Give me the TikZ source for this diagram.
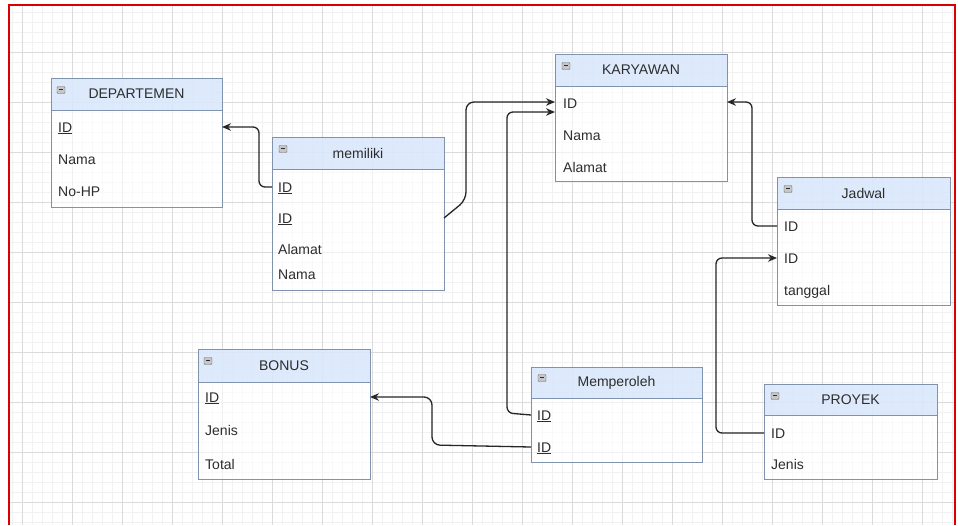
\documentclass[tikz,border=0pt]{standalone}
\usepackage{fontspec}
\setmainfont{Liberation Sans}
\usetikzlibrary{arrows.meta, calc}

\definecolor{hdrfill}{RGB}{218,232,252}
\definecolor{edgecol}{RGB}{128,146,172}
\definecolor{txtcol}{RGB}{45,45,45}

\begin{document}
\begin{tikzpicture}[
            x=1pt, y=-1pt,
            every node/.style={font=\fontsize{14}{16}\selectfont, text=txtcol},
            entity/.style={draw=edgecol, fill=hdrfill, fill opacity=0.9, text opacity=1, line width=1pt, outer sep=0pt, inner sep=0pt},
            fieldbox/.style={draw=edgecol, fill=white, fill opacity=0.6, line width=1pt, outer sep=0pt, inner sep=0pt},
            field/.style={anchor=west, inner sep=0pt, text height=10pt, text depth=0pt},
            toggle/.style={draw=gray!85!black, fill=gray!45, rounded corners=1pt, minimum width=8pt, minimum height=7pt, inner sep=0pt, font=\tiny},
            arrow/.style={-{Stealth[length=9pt, width=7.5pt]}, line width=1.3pt, black!85},
            minorline/.style={gray!11, line width=0.5pt},
            majorline/.style={gray!28, line width=0.7pt}
      ]
      \useasboundingbox (0,0) rectangle (958,525);
      \fill[white] (0,0) rectangle (958,525);

      % grid
      \foreach \x in {12,22,...,952} \draw[minorline] (\x,5) -- (\x,525);
      \foreach \y in {12,22,...,522} \draw[minorline] (9,\y) -- (955,\y);
      \foreach \x in {22,72,...,922} \draw[majorline] (\x,5) -- (\x,525);
      \foreach \y in {52,102,...,502} \draw[majorline] (9,\y) -- (955,\y);

      % frame
      \draw[red!85!black, line width=2pt] (9,525) -- (9,5) -- (955,5) -- (955,525);

      % DEPARTEMEN
      \node[entity, minimum width=171pt, minimum height=32pt] (dep) at (136.5,94) {DEPARTEMEN};
      \node[fieldbox, minimum width=171pt, minimum height=97pt] (depbody) at (136.5,158.5) {};
      \node[toggle] (deptog) at (61,90) {\rule[0.3ex]{3.5pt}{0.9pt}};
      \node[field] (depid) at (58,127) {\underline{ID}};
      \node[field] (depnama) at (58,159) {Nama};
      \node[field] (dephp) at (58,191) {No-HP};

      % memiliki
      \node[entity, minimum width=172pt, minimum height=32pt] (mem) at (358,153) {memiliki};
      \node[fieldbox, minimum width=172pt, minimum height=121pt] (membody) at (358,229.5) {};
      \node[toggle] (memtog) at (283,149) {\rule[0.3ex]{3.5pt}{0.9pt}};
      \node[field] (memid1) at (278,187) {\underline{ID}};
      \node[field] (memid2) at (278,218) {\underline{ID}};
      \node[field] (memalamat) at (278,249) {Alamat};
      \node[field] (memnama) at (278,274) {Nama};

      % KARYAWAN
      \node[entity, minimum width=172pt, minimum height=32pt] (kar) at (641,70) {KARYAWAN};
      \node[fieldbox, minimum width=172pt, minimum height=95pt] (karbody) at (641,133.5) {};
      \node[toggle] (kartog) at (566,66) {\rule[0.3ex]{3.5pt}{0.9pt}};
      \node[field] (karid) at (563,103) {ID};
      \node[field] (karnama) at (563,135) {Nama};
      \node[field] (karalamat) at (563,167) {Alamat};

      % Jadwal
      \node[entity, minimum width=173pt, minimum height=32pt] (jad) at (863.5,193) {Jadwal};
      \node[fieldbox, minimum width=173pt, minimum height=96pt] (jadbody) at (863.5,257) {};
      \node[toggle] (jadtog) at (788,189) {\rule[0.3ex]{3.5pt}{0.9pt}};
      \node[field] (jadid1) at (784,226) {ID};
      \node[field] (jadid2) at (784,258) {ID};
      \node[field] (jadtgl) at (784,290) {tanggal};

      % BONUS
      \node[entity, minimum width=172pt, minimum height=33pt] (bon) at (284,365.5) {BONUS};
      \node[fieldbox, minimum width=172pt, minimum height=97pt] (bonbody) at (284,430.5) {};
      \node[toggle] (bontog) at (208,361) {\rule[0.3ex]{3.5pt}{0.9pt}};
      \node[field] (bonid) at (205,397) {\underline{ID}};
      \node[field] (bonjenis) at (205,430) {Jenis};
      \node[field] (bontotal) at (205,464) {Total};

      % Memperoleh
      \node[entity, minimum width=171pt, minimum height=31pt] (per) at (616.5,382.5) {Memperoleh};
      \node[fieldbox, minimum width=171pt, minimum height=64pt] (perbody) at (616.5,430) {};
      \node[toggle] (pertog) at (542,378) {\rule[0.3ex]{3.5pt}{0.9pt}};
      \node[field] (perid1) at (537,415) {\underline{ID}};
      \node[field] (perid2) at (537,447) {\underline{ID}};

      % PROYEK
      \node[entity, minimum width=173pt, minimum height=31pt] (pro) at (850.5,399.5) {PROYEK};
      \node[fieldbox, minimum width=173pt, minimum height=64pt] (probody) at (850.5,447) {};
      \node[toggle] (protog) at (775,396) {\rule[0.3ex]{3.5pt}{0.9pt}};
      \node[field] (proid) at (771,433) {ID};
      \node[field] (projenis) at (771,464) {Jenis};

      % relations
      \draw[arrow, rounded corners=6pt] (membody.west |- memid1) -- ++(-13,0) |- (depbody.east |- depid);
      \draw[arrow, rounded corners=8pt] (membody.east |- memid2) -- ++(22,-18) |- ([yshift=1pt]karbody.west |- karid);
      \draw[arrow, rounded corners=6pt] (perbody.west |- perid1) -- ++(-24,-2) |- ([yshift=-9pt]karbody.west |- karid);
      \draw[arrow, rounded corners=8pt] (perbody.west |- perid2) -- ++(-99,-2) |- (bonbody.east |- bonid);
      \draw[arrow, rounded corners=6pt] (jadbody.west |- jadid1) -- ++(-25,0) |- ([yshift=1pt]karbody.east |- karid);
      \draw[arrow, rounded corners=6pt] (probody.west |- proid) -- ++(-48,0) |- (jadbody.west |- jadid2);
\end{tikzpicture}
\end{document}
